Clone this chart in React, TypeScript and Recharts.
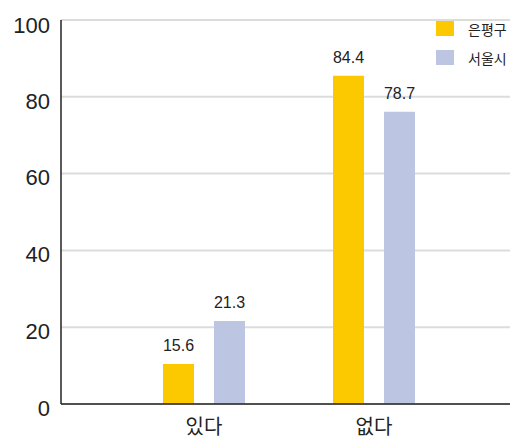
import { BarChart, Bar, XAxis, YAxis, CartesianGrid, LabelList } from 'recharts';

// 응답 구분
const categories = ['있다', '없다'];
// 막대 높이
const eunpyeongBars = [10.4, 85.5];
const seoulBars = [21.6, 76.1];
// 막대 위 표기값
const eunpyeongLabels = ['15.6', '84.4'];
const seoulLabels = ['21.3', '78.7'];
const yTicks = [0, 20, 40, 60, 80, 100];

const YELLOW = '#FCC800';
const BLUE = '#BCC6E2';
const FONT = '"Liberation Sans", "Noto Sans CJK KR", sans-serif';

const data = categories.map((name, i) => ({
  name,
  eunpyeong: eunpyeongBars[i],
  seoul: seoulBars[i],
  eunpyeongLabel: eunpyeongLabels[i],
  seoulLabel: seoulLabels[i],
}));

const legendItems = [
  { label: '은평구', color: YELLOW },
  { label: '서울시', color: BLUE },
];

function LegendBox() {
  return (
    <div style={{ position: 'absolute', left: 428, top: 6, fontFamily: FONT }}>
      {legendItems.map((it) => (
        <div key={it.label} style={{ display: 'flex', alignItems: 'center', height: 29 }}>
          <span style={{ width: 18, height: 15, background: it.color, display: 'inline-block' }} />
          <span style={{ marginLeft: 14, fontSize: 14, color: '#222' }}>{it.label}</span>
        </div>
      ))}
    </div>
  );
}

export default function App() {
  return (
    <div style={{ position: 'relative', width: 510, height: 433, fontFamily: FONT }}>
      <BarChart
        width={510}
        height={433}
        data={data}
        margin={{ top: 12, right: 1, left: 0, bottom: 0 }}
        barSize={31}
        barGap={20}
      >
        <CartesianGrid vertical={false} stroke="#dcdcdc" strokeWidth={2} />
        <XAxis
          dataKey="name"
          height={37}
          padding={{ left: 58, right: 58 }}
          tickLine={false}
          tickMargin={10}
          axisLine={{ stroke: '#222', strokeWidth: 1.5 }}
          tick={{ fill: '#222', fontSize: 20, fontFamily: FONT }}
        />
        <YAxis
          width={53}
          domain={[0, 100]}
          ticks={yTicks}
          tickLine={false}
          tickMargin={5}
          axisLine={{ stroke: '#222', strokeWidth: 1.5 }}
          tick={{ fill: '#222', fontSize: 22, fontFamily: FONT, dy: 4 }}
        />
        <Bar dataKey="eunpyeong" fill={YELLOW} isAnimationActive={false}>
          <LabelList dataKey="eunpyeongLabel" position="top" offset={13} fill="#222" fontSize={16} fontFamily={FONT} />
        </Bar>
        <Bar dataKey="seoul" fill={BLUE} isAnimationActive={false}>
          <LabelList dataKey="seoulLabel" position="top" offset={13} fill="#222" fontSize={16} fontFamily={FONT} />
        </Bar>
      </BarChart>
      <LegendBox />
    </div>
  );
}
